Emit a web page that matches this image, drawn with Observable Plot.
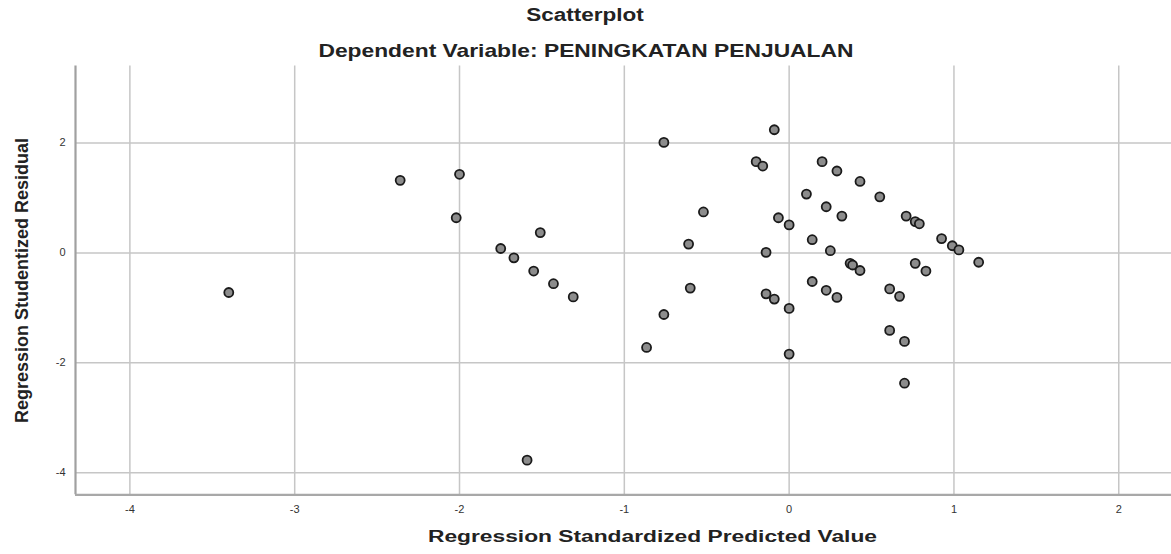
<!DOCTYPE html>
<html>
<head>
<meta charset="utf-8">
<script src="https://cdn.jsdelivr.net/npm/d3@7"></script>
<script src="https://cdn.jsdelivr.net/npm/@observablehq/plot@0.6"></script>
<style>
  html, body { margin: 0; padding: 0; background: #fff; }
  body { width: 1171px; height: 554px; overflow: hidden; font-family: "Liberation Sans", Arial, sans-serif; }
  #head { height: 62px; position: relative; color: #222; }
  .t { position: absolute; left: 0; width: 1171px; text-align: center; font-weight: bold; line-height: 1; white-space: nowrap; }
  .t span { display: inline-block; transform-origin: center; }
  #t1 { top: 5.8px; font-size: 18px; }
  #t1 span { transform: scaleX(1.25); }
  #t2 { top: 40.9px; font-size: 19px; }
  #t2 span { transform: scaleX(1.2); }
  #chart svg { display: block; }
</style>
</head>
<body>
<div id="head">
  <div class="t" id="t1"><span>Scatterplot</span></div>
  <div class="t" id="t2"><span>Dependent Variable: PENINGKATAN PENJUALAN</span></div>
</div>
<div id="chart"></div>
<script>
// Regression standardized predicted value (x) and studentized residual (y)
const predicted = [-3.40, -2.36, -2.00, -2.02, -1.75, -1.67, -1.55, -1.51, -1.43, -1.31,
  -1.59, -0.865, -0.76, -0.76, -0.61, -0.60, -0.52, -0.20, -0.16, -0.14,
  -0.14, -0.09, -0.09, -0.065, 0.00, 0.00, 0.00, 0.105, 0.14, 0.14,
  0.20, 0.225, 0.225, 0.25, 0.29, 0.29, 0.32, 0.37, 0.385, 0.43,
  0.43, 0.55, 0.61, 0.61, 0.67, 0.70, 0.70, 0.71, 0.765, 0.765,
  0.79, 0.83, 0.925, 0.99, 1.03, 1.15];
const residual = [-0.72, 1.32, 1.43, 0.64, 0.08, -0.09, -0.33, 0.37, -0.56, -0.80,
  -3.77, -1.72, 2.01, -1.12, 0.16, -0.64, 0.745, 1.66, 1.58, 0.01,
  -0.745, 2.24, -0.84, 0.64, 0.51, -1.01, -1.84, 1.07, 0.24, -0.52,
  1.66, 0.84, -0.68, 0.04, 1.49, -0.81, 0.67, -0.19, -0.22, 1.30,
  -0.32, 1.02, -0.655, -1.41, -0.79, -1.61, -2.37, 0.67, 0.57, -0.19,
  0.53, -0.33, 0.26, 0.13, 0.055, -0.17];
const xTicks = [-4, -3, -2, -1, 0, 1, 2];
const yTicks = [-4, -2, 0, 2];
const xTitle = "Regression Standardized Predicted Value";
const yTitle = "Regression Studentized Residual";

const points = predicted.map((p, i) => ({x: p, y: residual[i]}));
const xDomain = [-4.33, 2.32];
const yDomain = [-4.40, 3.40];
const fmt = d => String(d);

const chart = Plot.plot({
  width: 1171,
  height: 492,
  marginLeft: 75,
  marginRight: 0,
  marginTop: 3.5,
  marginBottom: 59.7,
  style: {fontFamily: "'Liberation Sans', Arial, sans-serif", color: "#333", background: "none", overflow: "visible"},
  x: {domain: xDomain, label: null},
  y: {domain: yDomain, label: null},
  marks: [
    Plot.gridX(xTicks, {stroke: "#c6c6c6", strokeOpacity: 1, strokeWidth: 1.5}),
    Plot.gridY(yTicks, {stroke: "#c6c6c6", strokeOpacity: 1, strokeWidth: 1.5}),
    Plot.ruleX([xDomain[0]], {stroke: "#a0a0a0", strokeWidth: 2.2}),
    Plot.ruleY([yDomain[0]], {stroke: "#a8a8a8", strokeWidth: 2.2}),
    Plot.axisX(xTicks, {tickSize: 0, tickPadding: 10, fontSize: 11, tickFormat: fmt, label: null}),
    Plot.axisY(yTicks, {tickSize: 0, tickPadding: 10, fontSize: 11, tickFormat: fmt, label: null}),
    Plot.text([xTitle], {frameAnchor: "bottom", dy: 47, dx: 29, fontSize: 17, fontWeight: "bold", fill: "#222"}),
    Plot.text([yTitle], {frameAnchor: "left", textAnchor: "middle", dx: -53, rotate: -90, fontSize: 18, fontWeight: "bold", fill: "#222"}),
    Plot.dot(points, {x: "x", y: "y", r: 4.5, fill: "#8c8c8c", stroke: "#1a1a1a", strokeWidth: 1.8})
  ]
});
document.getElementById("chart").appendChild(chart);

// the reference is horizontally stretched: widen the x-axis title accordingly
d3.select(chart).selectAll("text").each(function() {
  if (this.textContent === xTitle) {
    const x = +(this.getAttribute("x") || 0);
    const t = this.getAttribute("transform") || "";
    this.setAttribute("transform", `${t} translate(${x},0) scale(1.34,1) translate(${-x},0)`);
  }
});
</script>
</body>
</html>
